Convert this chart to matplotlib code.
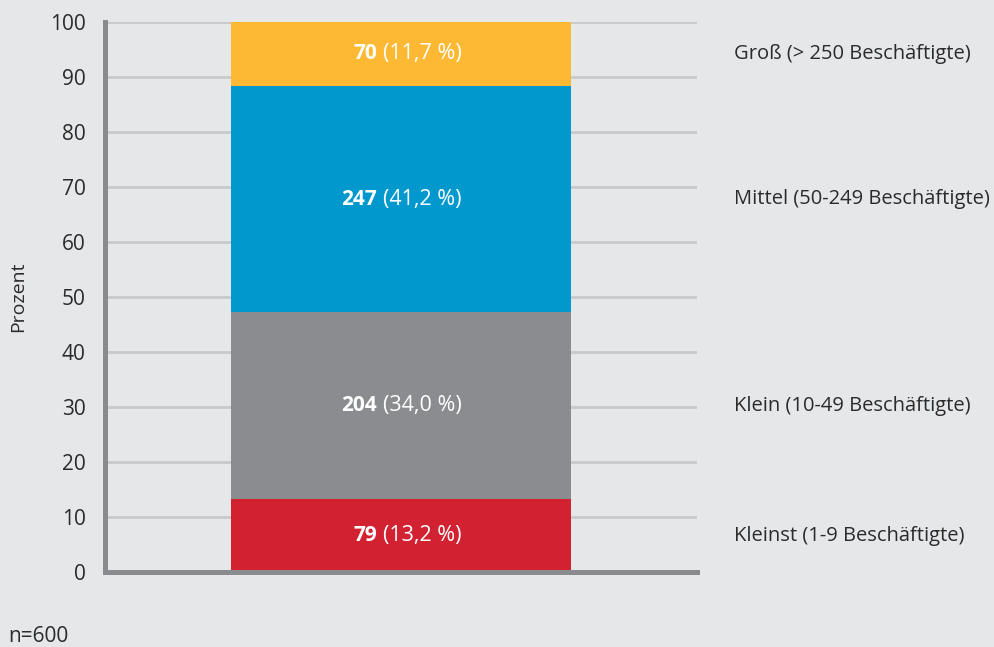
import matplotlib.pyplot as plt

plt.rcParams["font.family"] = ["Open Sans", "DejaVu Sans"]

# Daten: Unternehmensgröße, Anzahl und Anteil (n=600)
kategorien = ["Kleinst (1-9 Beschäftigte)", "Klein (10-49 Beschäftigte)",
              "Mittel (50-249 Beschäftigte)", "Groß (> 250 Beschäftigte)"]
anzahl = [79, 204, 247, 70]
prozent = [13.2, 34.0, 41.2, 11.7]
farben = ["#d22232", "#8b8c8f", "#0098cd", "#fdb933"]
yticks = [0, 10, 20, 30, 40, 50, 60, 70, 80, 90, 100]

BG = "#e6e7e9"
TXT = "#2b2b2b"
fig = plt.figure(figsize=(9.95, 6.47), dpi=100, facecolor=BG)
ax = fig.add_axes([105 / 995, 1 - 572 / 647, 592 / 995, 550 / 647])
ax.set_facecolor(BG)

# Gitterlinien
for t in yticks[1:]:
    ax.axhline(t, color="#c8c9cb", lw=2, zorder=1)

unten = 0
for kat, n, p, c in zip(kategorien, anzahl, prozent, farben):
    ax.bar(0.5, p, width=0.574, bottom=unten, color=c, zorder=2)
    mitte = unten + p / 2
    ax.annotate(f"{n}", (0.5, mitte), xytext=(-17, 0), textcoords="offset points",
                ha="right", va="center", color="white", fontsize=15, fontweight="bold", zorder=3)
    ax.annotate(f"({p:.1f} %)".replace(".", ","), (0.5, mitte), xytext=(-13, 0),
                textcoords="offset points", ha="left", va="center", color="white",
                fontsize=15.5, zorder=3)
    ax.text(1.063, mitte, kat, transform=ax.get_yaxis_transform(), ha="left", va="center",
            fontsize=14.5, color=TXT)
    unten += p

ax.set_xlim(0, 1)
ax.set_ylim(0, 100)
ax.set_xticks([])
ax.set_yticks(yticks)
ax.tick_params(axis="y", length=0, pad=14, labelsize=15, labelcolor=TXT)

for s in ["top", "right"]:
    ax.spines[s].set_visible(False)
for s in ["left", "bottom"]:
    ax.spines[s].set_color("#8a8b8e")
    ax.spines[s].set_linewidth(3.6)
    ax.spines[s].set_zorder(4)

fig.text(18 / 995, 1 - 297 / 647, "Prozent", rotation=90, ha="center", va="center",
         fontsize=14, color=TXT)
fig.text(8 / 995, 1 - 637 / 647, "n=600", ha="left", va="center", fontsize=15, color=TXT)

fig.savefig("out.png", dpi=100, facecolor=BG)
